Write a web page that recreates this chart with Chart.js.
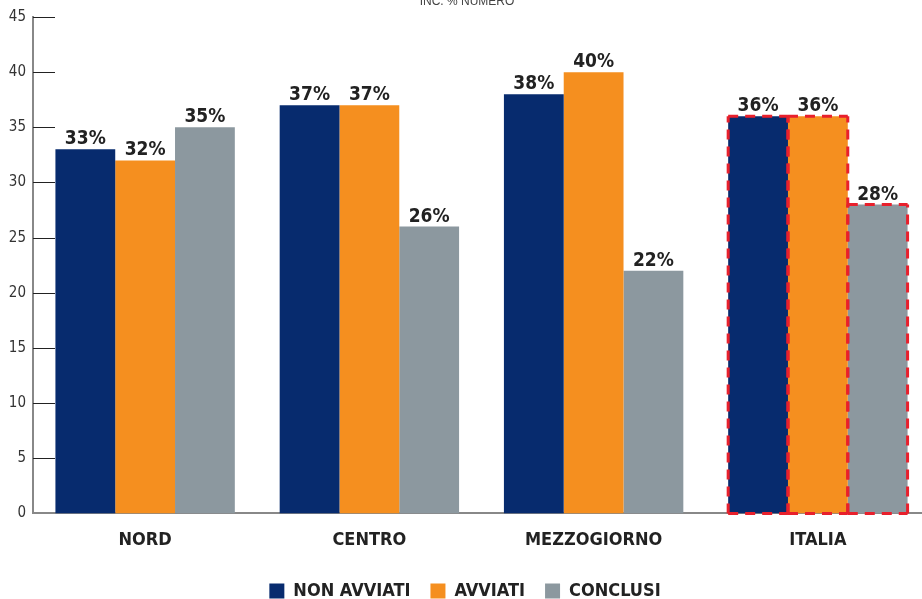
<!DOCTYPE html>
<html>
<head>
<meta charset="utf-8">
<script src="https://cdn.jsdelivr.net/npm/chart.js@4.4.1/dist/chart.umd.min.js"></script>
<style>
  html, body { margin: 0; padding: 0; background: #fff; overflow: hidden; }
  #wrap { position: relative; width: 930px; height: 610px; }
</style>
</head>
<body>
<div id="wrap"><canvas id="barChart"></canvas></div>
<script>
const categories = ['NORD', 'CENTRO', 'MEZZOGIORNO', 'ITALIA'];
const seriesNames = ['NON AVVIATI', 'AVVIATI', 'CONCLUSI'];
const nonAvviati = [33, 37, 38, 36];
const avviati = [32, 37, 40, 36];
const conclusi = [35, 26, 22, 28];
const yTicks = [0, 5, 10, 15, 20, 25, 30, 35, 40, 45];
const highlightIndex = 3; // ITALIA, riquadro rosso tratteggiato
const chartTitle = 'INC. % NUMERO';

const narrow = "'Liberation Sans Narrow', 'DejaVu Sans Condensed', sans-serif";

// titolo in alto, un po' tagliato come nell'originale
const titlePlugin = {
    id: 'topTitle',
    afterDraw(chart) {
        const ctx = chart.ctx;
        ctx.save();
        ctx.font = "12px 'Liberation Sans', Arial, sans-serif";
        ctx.fillStyle = '#444';
        ctx.textAlign = 'center';
        ctx.textBaseline = 'alphabetic';
        ctx.fillText(chartTitle, 467, 5);
        ctx.restore();
    },
};

// tacche dell'asse y disegnate verso destra
const tickPlugin = {
    id: 'innerTicks',
    afterDatasetsDraw(chart) {
        const ctx = chart.ctx;
        const y = chart.scales.y;
        const left = chart.chartArea.left;
        ctx.save();
        ctx.strokeStyle = '#222';
        ctx.lineWidth = 1;
        yTicks.forEach((v) => {
            const py = Math.round(y.getPixelForValue(v)) + 0.5;
            if (v === 0) return;
            ctx.beginPath();
            ctx.moveTo(left, py);
            ctx.lineTo(left + 22, py);
            ctx.stroke();
        });
        ctx.restore();
    },
};

function dashedLine(ctx, x1, y1, x2, y2) {
    ctx.beginPath();
    ctx.moveTo(x1, y1);
    ctx.lineTo(x2, y2);
    ctx.stroke();
}

// etichette percentuali + bordo tratteggiato sulle barre ITALIA
const labelPlugin = {
    id: 'barLabels',
    afterDatasetsDraw(chart) {
        const ctx = chart.ctx;
        ctx.save();
        chart.data.datasets.forEach((ds, di) => {
            const meta = chart.getDatasetMeta(di);
            meta.data.forEach((bar, i) => {
                if (i === highlightIndex) {
                    const l = bar.x - bar.width / 2;
                    const r = bar.x + bar.width / 2;
                    ctx.setLineDash([10, 7]);
                    ctx.strokeStyle = '#e8202c';
                    ctx.lineWidth = 3;
                    // lati verticali dal basso verso l'alto, così i tratti combaciano
                    dashedLine(ctx, l, bar.base, l, bar.y);
                    dashedLine(ctx, r, bar.base, r, bar.y);
                    dashedLine(ctx, l, bar.y, r, bar.y);
                    dashedLine(ctx, l, bar.base, r, bar.base);
                    ctx.setLineDash([]);
                }
                ctx.font = 'bold 19px ' + narrow;
                ctx.fillStyle = '#222';
                ctx.textAlign = 'center';
                ctx.textBaseline = 'alphabetic';
                ctx.fillText(ds.data[i] + '%', bar.x, bar.y - 5);
            });
        });
        ctx.restore();
    },
};

const ctx = document.getElementById('barChart').getContext('2d');
new Chart(ctx, {
    type: 'bar',
    data: {
        labels: categories,
        datasets: [
            { label: seriesNames[0], data: nonAvviati, backgroundColor: '#072b6e' },
            { label: seriesNames[1], data: avviati, backgroundColor: '#f58f1f' },
            { label: seriesNames[2], data: conclusi, backgroundColor: '#8c989f' },
        ],
    },
    options: {
        responsive: true,
        maintainAspectRatio: false,
        animation: false,
        layout: { padding: { top: 17, left: 0, right: 0, bottom: 0 } },
        datasets: {
            bar: { categoryPercentage: 0.8, barPercentage: 1.0 },
        },
        plugins: {
            legend: {
                position: 'bottom',
                labels: {
                    boxWidth: 15,
                    boxHeight: 15,
                    padding: 20,
                    color: '#222',
                    font: { family: narrow, size: 18, weight: 'bold' },
                },
            },
            tooltip: { enabled: false },
        },
        scales: {
            x: {
                afterFit: (scale) => { scale.height -= 5; },
                grid: { display: false, drawTicks: false },
                border: { display: true, color: '#888', width: 2 },
                ticks: {
                    color: '#222',
                    padding: 16,
                    font: { family: narrow, size: 18, weight: 'bold' },
                },
            },
            y: {
                min: 0,
                max: 45,
                afterFit: (scale) => { scale.width = 33; },
                afterBuildTicks: (scale) => { scale.ticks = yTicks.map((v) => ({ value: v })); },
                grid: { display: false, drawTicks: false },
                border: { display: true, color: '#888', width: 2 },
                ticks: {
                    color: '#333',
                    padding: 7,
                    font: { family: narrow, size: 15 },
                },
            },
        },
    },
    plugins: [titlePlugin, tickPlugin, labelPlugin],
});
</script>
</body>
</html>
